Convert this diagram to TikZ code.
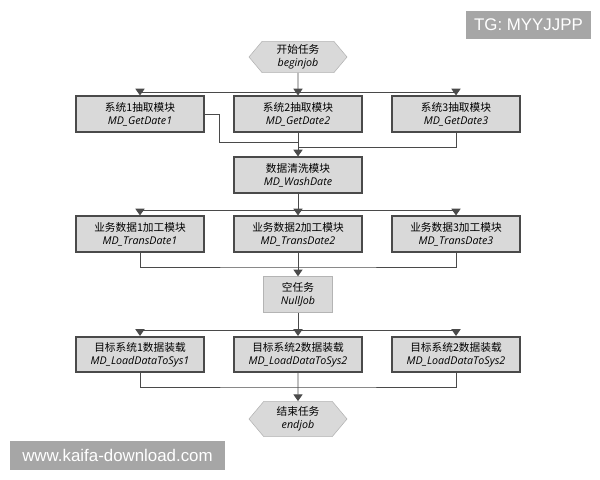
\documentclass[tikz,border=0pt]{standalone}
\usepackage{fontspec}
\setmainfont{Open Sans}
\newfontfamily\cjk{Noto Sans CJK SC}
\newfontfamily\wmfont{Liberation Sans}
\usetikzlibrary{arrows.meta,shapes.symbols,shadows}
\tikzset {>={Triangle[width=6.5pt,length=4.8pt]}}
\definecolor{boxfill}{HTML}{D9D9D9}
\definecolor{boxline}{HTML}{4A4A4A}
\definecolor{hexline}{HTML}{B4B4B4}
\definecolor{wmgray}{HTML}{A6A6A6}
\newcommand*{\tl}[2]{{\cjk #1}\\{\itshape #2}}
\tikzset{
  modbox/.style={draw=boxline,line width=1.3pt,fill=boxfill,minimum width=3.2cm,
    minimum height=0.88cm,inner sep=1pt,align=center,font=\fontsize{7.6}{9.4}\selectfont,
    drop shadow={opacity=0.25,shadow xshift=0.7pt,shadow yshift=-0.7pt}},
  jobhex/.style={signal,signal to=west and east,signal pointer angle=100,draw=hexline,
    fill=boxfill,minimum width=2.45cm,minimum height=0.78cm,inner sep=1pt,align=center,
    font=\fontsize{7.6}{9.4}\selectfont},
  conn/.style={draw=boxline,line width=0.7pt},
  wmbox/.style={fill=wmgray,text=white,font=\wmfont\fontsize{12}{14}\selectfont,inner sep=0pt}
}

\begin{document}
\begin{tikzpicture}[x=0.025cm,y=-0.025cm]
\useasboundingbox (0,0) rectangle (600,480);
% jobs and modules
\node[jobhex] (begin) at (298,57) {\tl{开始任务}{beginjob}};
\node[modbox] (get1) at (140,114) {\tl{系统1抽取模块}{MD\_GetDate1}};
\node[modbox] (get2) at (298,114) {\tl{系统2抽取模块}{MD\_GetDate2}};
\node[modbox] (get3) at (456,114) {\tl{系统3抽取模块}{MD\_GetDate3}};
\node[modbox] (wash) at (298,175) {\tl{数据清洗模块}{MD\_WashDate}};
\node[modbox] (tr1) at (140,234) {\tl{业务数据1加工模块}{MD\_TransDate1}};
\node[modbox] (tr2) at (298,234) {\tl{业务数据2加工模块}{MD\_TransDate2}};
\node[modbox] (tr3) at (456,234) {\tl{业务数据3加工模块}{MD\_TransDate3}};
\node[modbox,draw=hexline,line width=0.8pt,minimum width=1.72cm] (null) at (298,294.5) {\tl{空任务}{NullJob}};
\node[modbox] (load1) at (140,354.5) {\tl{目标系统1数据装载}{MD\_LoadDataToSys1}};
\node[modbox] (load2) at (298,354.5) {\tl{目标系统2数据装载}{MD\_LoadDataToSys2}};
\node[modbox] (load3) at (456,354.5) {\tl{目标系统2数据装载}{MD\_LoadDataToSys2}};
\node[jobhex,minimum height=0.88cm] (end) at (298,419) {\tl{结束任务}{endjob}};
% split and join points
\coordinate (sp1) at (298,92);
\coordinate (sp2) at (298,210);
\coordinate (sp3) at (298,330);
\coordinate (jn1) at (298,142);
\coordinate (jn1b) at (298,147);
\coordinate (jn2) at (298,267);
\coordinate (jn3) at (298,387);
% connectors
\draw[conn] (begin) -- (sp1);
\foreach \i in {1,2,3}
  \draw[conn,->] (sp1) -| (get\i);
\draw[conn] (get1.east) -- ++(15,0) |- (jn1);
\draw[conn] (get3) |- (jn1b);
\draw[conn,->] (get2) -- (wash);
\draw[conn] (wash) -- (sp2);
\foreach \i in {1,2,3}
  \draw[conn,->] (sp2) -| (tr\i);
\draw[conn] (tr1) |- (jn2) -| (tr3);
\draw[conn,->] (tr2) -- (null);
\draw[conn] (null) -- (sp3);
\foreach \i in {1,2,3}
  \draw[conn,->] (sp3) -| (load\i);
\draw[conn] (load1) |- (jn3) -| (load3);
\draw[conn,->] (load2) -- (end);
% watermarks
\node[wmbox,minimum width=3.125cm,minimum height=0.7cm] (tg) at (528.5,25) {TG: MYYJJPP};
\node[wmbox,minimum width=5.375cm,minimum height=0.72cm] (www) at (117.5,455.5) {www.kaifa-download.com};
\end{tikzpicture}
\end{document}
